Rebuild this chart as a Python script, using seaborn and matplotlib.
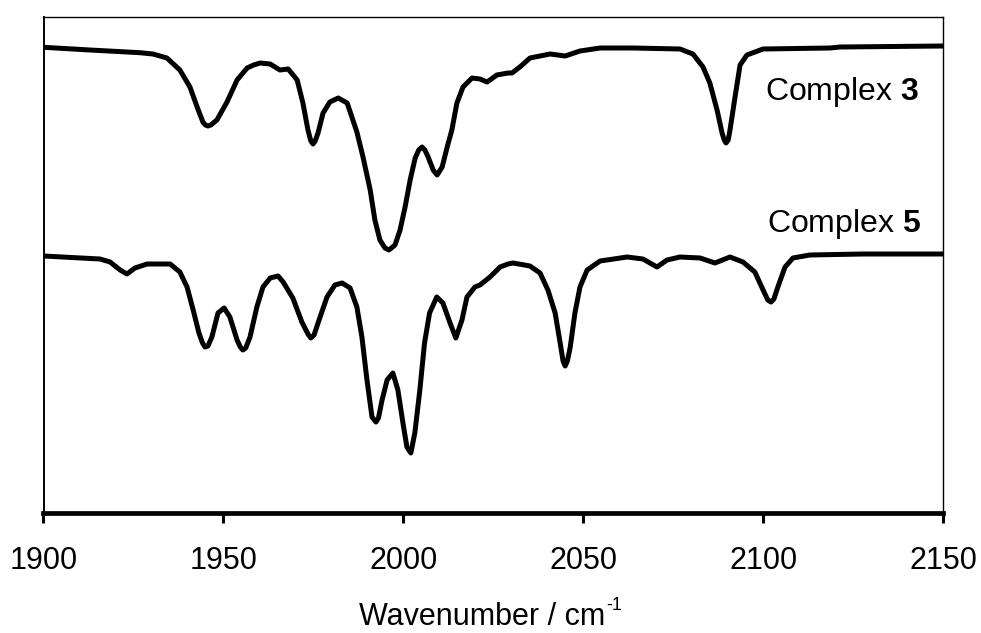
import numpy as np
import pandas as pd
import matplotlib
matplotlib.use("Agg")
import matplotlib.pyplot as plt
import seaborn as sns

# ---- data (arbitrary transmittance units) ----
wn_c3 = [1900.0, 1912.9, 1926.8, 1930.4, 1934.3, 1937.9, 1940.7, 1942.7, 1944.3, 1945.0,
         1945.7, 1946.5, 1948.2, 1951.0, 1953.8, 1956.6, 1958.4, 1960.2, 1963.0, 1965.7,
         1968.0, 1970.5, 1972.1, 1973.5, 1974.3, 1974.9, 1975.5, 1976.3, 1977.7, 1979.6,
         1981.9, 1984.4, 1987.1, 1988.8, 1990.8, 1992.1, 1993.5, 1994.9, 1996.0, 1997.7,
         1999.1, 2000.5, 2001.9, 2003.3, 2004.3, 2005.2, 2006.0, 2006.9, 2008.3, 2009.4,
         2010.8, 2012.2, 2013.5, 2014.9, 2016.6, 2019.1, 2021.3, 2023.3, 2026.0, 2029.1,
         2030.2, 2032.4, 2035.2, 2040.8, 2045.0, 2049.1, 2054.7, 2063.8, 2076.9, 2080.5,
         2083.3, 2085.2, 2087.2, 2088.6, 2089.2, 2089.7, 2090.3, 2090.8, 2092.2, 2093.6,
         2095.5, 2100.0, 2118.6, 2121.4, 2150.0]
t_c3 = [465.7, 463, 460.3, 459, 455, 443, 426, 406, 391, 388,
        387, 388, 393, 411, 433, 445, 448, 450, 449, 443,
        444, 433, 410, 383, 372, 369, 372, 380, 400, 411,
        415, 410, 381, 356, 323, 293, 273, 265, 263, 268,
        283, 306, 333, 355, 363, 366, 363, 356, 343, 338,
        346, 366, 383, 410, 426, 435, 434, 431, 438, 440,
        440, 446, 455, 459, 457, 462, 465, 465, 464, 459,
        446, 430, 403, 380, 373, 370, 373, 383, 416, 448,
        458, 464, 465, 466, 467]

wn_c5 = [1900.0, 1915.7, 1918.5, 1921.3, 1923.2, 1925.4, 1928.8, 1935.2, 1937.9, 1939.9,
         1941.6, 1943.2, 1944.2, 1944.9, 1945.7, 1946.8, 1948.5, 1950.2, 1951.8, 1953.8,
         1954.7, 1955.4, 1956.2, 1957.4, 1959.3, 1961.0, 1963.0, 1965.2, 1966.6, 1969.3,
         1971.8, 1973.5, 1974.3, 1975.2, 1976.3, 1978.8, 1981.0, 1983.0, 1985.2, 1987.1,
         1988.5, 1989.9, 1991.3, 1992.4, 1993.1, 1994.1, 1995.5, 1997.1, 1998.5, 1999.9,
         2001.0, 2002.1, 2003.2, 2004.6, 2005.9, 2007.3, 2009.3, 2011.0, 2013.0, 2014.6,
         2016.3, 2017.7, 2019.9, 2021.3, 2024.1, 2026.9, 2029.1, 2030.5, 2035.2, 2038.0,
         2040.2, 2042.2, 2043.6, 2044.4, 2045.0, 2045.6, 2046.4, 2047.7, 2049.1, 2051.1,
         2054.7, 2062.2, 2066.6, 2070.5, 2073.3, 2076.9, 2082.5, 2086.6, 2090.8, 2094.4,
         2097.7, 2100.0, 2101.3, 2102.2, 2103.0, 2104.1, 2106.1, 2108.3, 2113.0, 2127.7,
         2150.0]
t_c5 = [257, 254, 251, 243, 239, 245, 249, 249, 241, 226,
        203, 180, 170, 166, 167, 176, 200, 205, 196, 173,
        166, 163, 165, 176, 206, 226, 235, 237, 231, 215,
        191, 179, 175, 178, 190, 216, 228, 230, 225, 206,
        176, 133, 96, 91, 95, 113, 133, 140, 123, 90,
        66, 60, 80, 123, 170, 200, 216, 210, 190, 175,
        193, 216, 226, 228, 236, 246, 249, 250, 247, 240,
        223, 200, 170, 152, 147, 152, 166, 200, 226, 243,
        252, 256, 254, 246, 253, 256, 255, 250, 256, 251,
        241, 223, 213, 211, 214, 226, 246, 255, 258, 259,
        259]

labels = ["Complex 3", "Complex 5"]
x_ticks = [1900, 1950, 2000, 2050, 2100, 2150]

df = pd.concat([
    pd.DataFrame({"wn": wn_c3, "T": t_c3, "sample": labels[0]}),
    pd.DataFrame({"wn": wn_c5, "T": t_c5, "sample": labels[1]}),
], ignore_index=True)

sns.set_style("white")
plt.rcParams["font.family"] = ["Liberation Sans", "DejaVu Sans"]
plt.rcParams["mathtext.fontset"] = "custom"
plt.rcParams["mathtext.rm"] = "Liberation Sans"
plt.rcParams["mathtext.bf"] = "Liberation Sans:bold"
plt.rcParams["mathtext.it"] = "Liberation Sans:italic"
plt.rcParams["text.color"] = "black"
plt.rcParams["axes.labelcolor"] = "black"
plt.rcParams["xtick.color"] = "black"
plt.rcParams["xtick.labelcolor"] = "black"

fig = plt.figure(figsize=(9.81, 6.33), dpi=100)
W, H = 981, 633
ax = fig.add_axes([43.5 / W, (H - 513) / H, (943 - 43.5) / W, (513 - 17) / H])

sns.lineplot(data=df, x="wn", y="T", hue="sample", units="sample", estimator=None,
             sort=False, palette=["black", "black"], linewidth=3.6, legend=False, ax=ax)
for ln in ax.get_lines():
    ln.set_solid_joinstyle("round")
    ln.set_solid_capstyle("butt")

ax.set_xlim(1900, 2150)
ax.set_ylim(0, 496)
ax.set_xticks(x_ticks)
ax.set_xticklabels([str(t) for t in x_ticks])
ax.set_yticks([])
ax.tick_params(axis="x", direction="out", length=7, width=2.2, color="black",
               labelsize=22, pad=17, bottom=True)
ax.set_ylabel("")
ax.set_xlabel("Wavenumber / cm", fontsize=22)
ax.xaxis.label.set_va("baseline")
ax.xaxis.set_label_coords((482 - 43.5) / 899.5, (513 - 625) / 496)
ax.annotate("-1", xy=(1.0, 0.0), xycoords=ax.xaxis.label, xytext=(1.0, 15.5),
            textcoords="offset points", fontsize=13, ha="left", va="baseline")

for side, lw in [("bottom", 3.4), ("left", 1.4), ("top", 1.0), ("right", 1.0)]:
    ax.spines[side].set_visible(True)
    ax.spines[side].set_color("black")
    ax.spines[side].set_linewidth(lw)

ax.text(2100.5, 413, "Complex $\\mathbf{3}$", fontsize=23, ha="left", va="baseline")
ax.text(2101.0, 281, "Complex $\\mathbf{5}$", fontsize=23, ha="left", va="baseline")

fig.savefig("out.png", dpi=100)
